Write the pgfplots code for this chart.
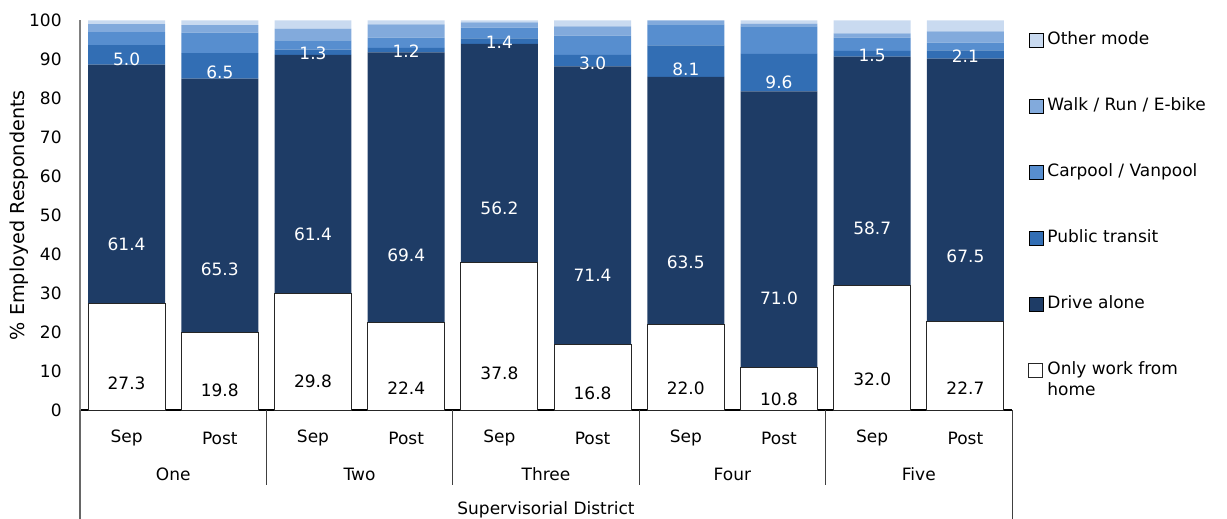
\documentclass[border=0pt]{standalone}
\usepackage{fontspec}
\setmainfont{DejaVu Sans}
\usepackage{pgfplots}
\usepackage{pgfplotstable}
\pgfplotsset{compat=1.18}

\definecolor{cother}{HTML}{C9DAF0}
\definecolor{cwalk}{HTML}{82AADC}
\definecolor{ccar}{HTML}{578ECF}
\definecolor{ctransit}{HTML}{326EB4}
\definecolor{cdrive}{HTML}{1E3C66}

% share of employed respondents by commute mode, Sep vs Post, per district
\pgfplotstableread{
x wfh  drive transit carpool walk other
0 27.3 61.4  5.0     3.3     2.1  0.9
1 19.8 65.3  6.5     5.3     1.9  1.2
2 29.8 61.4  1.3     2.4     3.0  2.1
3 22.4 69.4  1.2     2.6     3.4  1.0
4 37.8 56.2  1.4     2.8     1.3  0.5
5 16.8 71.4  3.0     4.9     2.4  1.5
6 22.0 63.5  8.1     5.4     1.0  0.0
7 10.8 71.0  9.6     7.1     0.7  0.8
8 32.0 58.7  1.5     3.4     1.1  3.3
9 22.7 67.5  2.1     2.0     2.9  2.8
}\modes

\pgfplotsset{
  midlabel/.style={
    nodes near coords,
    point meta=rawy,
    nodes near coords style={/pgf/number format/fixed,
      /pgf/number format/fixed zerofill, /pgf/number format/precision=1,
      /pgf/number format/assume math mode=true},
    visualization depends on={rawy \as \segh},
    every node near coord/.append style={anchor=center, inner sep=0pt,
      yshift=-\segh*0.486875bp},
  },
}

\begin{document}
\fontsize{8.5bp}{10bp}\selectfont
\begin{tikzpicture}
\begin{axis}[
  name=ax,
  x=46.6bp, y=1.9475bp,
  xmin=-0.5, xmax=9.5, ymin=0, ymax=100,
  ybar stacked, bar width=0.826,
  axis lines*=left,
  x axis line style={black, line width=0.6bp},
  y axis line style={black!50, line width=0.6bp},
  major tick length=0pt,
  xtick={0,...,9},
  xticklabels={Sep,Post,Sep,Post,Sep,Post,Sep,Post,Sep,Post},
  ytick={0,10,...,100},
  /pgf/number format/assume math mode=true,
  yticklabel style={anchor=east, inner sep=0pt, xshift=-9bp},
  xticklabel style={anchor=center, inner sep=0pt, yshift=-14bp},
  ylabel={\% Employed Respondents},
  ylabel style={at={(axis description cs:-0.0655,0.5)}, anchor=center,
    font=\fontsize{9.6bp}{11bp}\selectfont},
  xlabel={Supervisorial District},
  xlabel style={at={(axis description cs:0.5,-0.2567)}, anchor=center},
  clip=false,
  reverse legend,
  legend cell align=left,
  legend image code/.code={\draw[#1] (0bp,-3.5bp) rectangle (7bp,3.5bp);},
  legend style={at={(rel axis cs:1.0172,0.9718)}, anchor=north west,
    draw=none, fill=none, inner sep=0pt, row sep=24.5bp, column sep=2bp,
    nodes={inner sep=0pt, text height=6.5bp, text depth=2bp}},
]
\addplot[fill=white, draw=black!85, line width=0.5bp, midlabel]
  table[x=x, y=wfh] {\modes};
\addlegendentry{\rlap{\raisebox{-10.5bp}[0pt][0pt]{home}}Only work from}
\addplot[fill=cdrive, draw=none, midlabel,
  every node near coord/.append style={text=white}]
  table[x=x, y=drive] {\modes};
\addlegendentry{Drive alone}
\addplot[fill=ctransit, draw=none, midlabel,
  every node near coord/.append style={text=white}]
  table[x=x, y=transit] {\modes};
\addlegendentry{Public transit}
\addplot[fill=ccar, draw=none] table[x=x, y=carpool] {\modes};
\addlegendentry{Carpool / Vanpool}
\addplot[fill=cwalk, draw=none] table[x=x, y=walk] {\modes};
\addlegendentry{Walk / Run / E-bike}
\addplot[fill=cother, draw=none] table[x=x, y=other] {\modes};
\addlegendentry{Other mode}

% category table under the axis
\pgfplotsinvokeforeach{1.5,3.5,5.5,7.5}{
  \draw[black!75, line width=0.5bp] (axis cs:#1,0) -- ++(0pt,-37.5bp);
}
\draw[black!60, line width=0.6bp] (axis cs:-0.5,0) -- ++(0pt,-54.5bp);
\draw[black!75, line width=0.5bp] (axis cs:9.5,0) -- ++(0pt,-54.5bp);
\node[inner sep=0pt, anchor=center] at ([yshift=-32bp]axis cs:0.5,0) {One};
\node[inner sep=0pt, anchor=center] at ([yshift=-32bp]axis cs:2.5,0) {Two};
\node[inner sep=0pt, anchor=center] at ([yshift=-32bp]axis cs:4.5,0) {Three};
\node[inner sep=0pt, anchor=center] at ([yshift=-32bp]axis cs:6.5,0) {Four};
\node[inner sep=0pt, anchor=center] at ([yshift=-32bp]axis cs:8.5,0) {Five};

\coordinate (bl) at (rel axis cs:0,0);
\coordinate (tr) at (rel axis cs:1,1);
\end{axis}
\pgfresetboundingbox
\path ([shift={(-40bp,-54.5bp)}]bl) rectangle ([shift={(107.5bp,10.25bp)}]tr);
\end{tikzpicture}
\end{document}
